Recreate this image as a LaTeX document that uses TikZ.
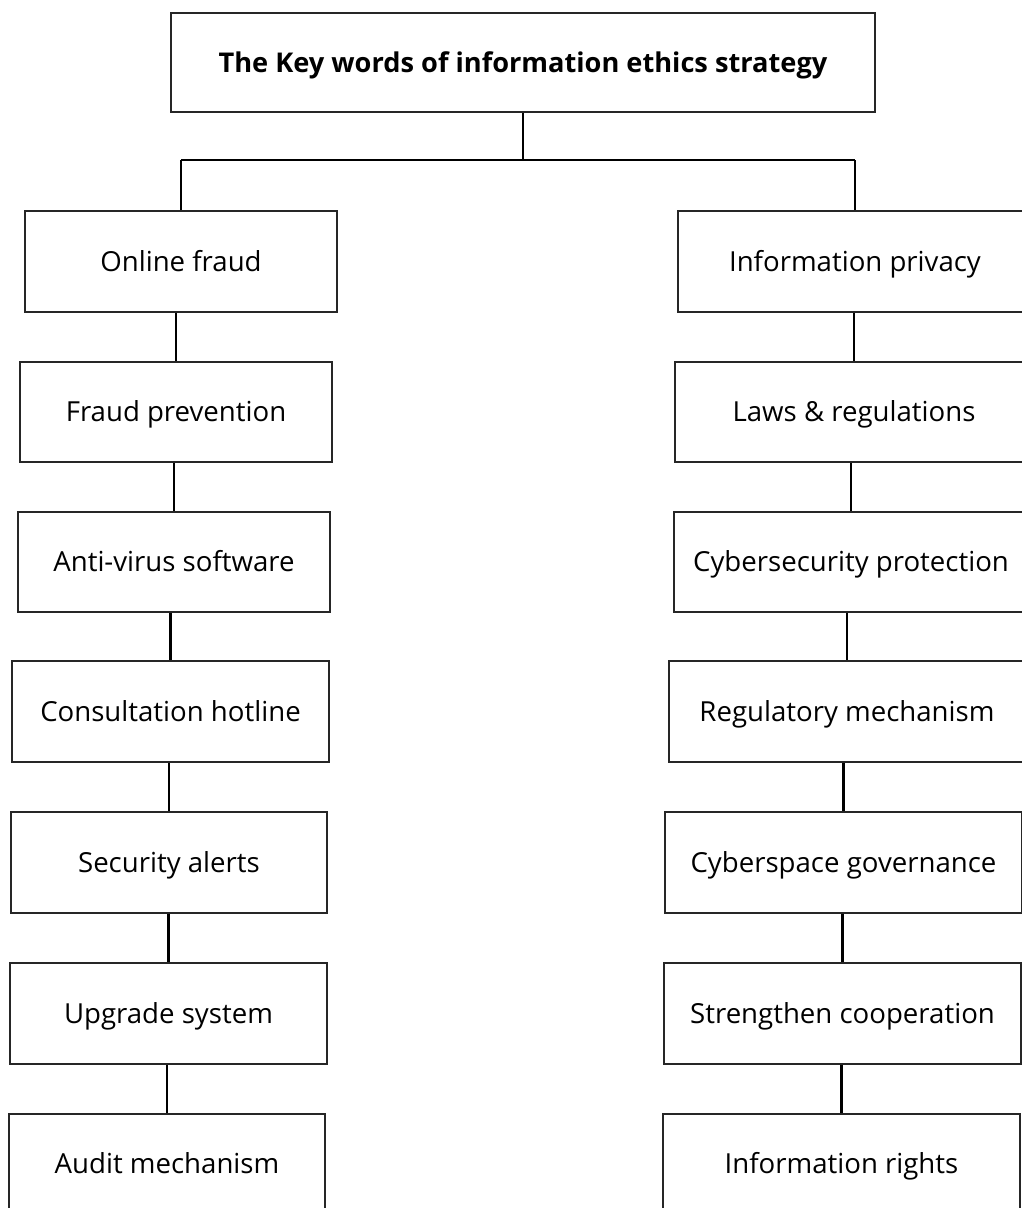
\documentclass[tikz,border=0pt]{standalone}
\usepackage{fontspec}
\setmainfont{Open Sans}
\begin{document}
\begin{tikzpicture}[x=0.75pt,y=-0.75pt,
  kbox/.style={draw=black!85, line width=1.1pt, inner sep=0pt, align=center,
    text height=14.7pt, text depth=0pt,
    font=\fontsize{20.7pt}{24pt}\selectfont},
  link/.style={draw=black, line width=1.6pt}]
\useasboundingbox (0,0) rectangle (1022,1208);
% box given by its left, top, right and bottom edges
\newcommand\kwbox[7][]{%
  \node[kbox,#1, minimum width={(#5-#3)*0.75pt}, minimum height={(#6-#4)*0.75pt}]
    (#2) at ({(#3+#5)/2},{(#4+#6)/2}) {#7};}

\kwbox[font=\fontsize{20.4pt}{24pt}\selectfont\bfseries]{top}{171}{13}{875}{112}{The Key words of information ethics strategy}

% left column
\kwbox{l1}{25}{211}{337}{312}{Online fraud}
\kwbox{l2}{20}{362}{332}{462}{Fraud prevention}
\kwbox{l3}{18}{512}{330}{612}{Anti-virus software}
\kwbox{l4}{12}{661}{329}{762}{Consultation hotline}
\kwbox{l5}{11}{812}{327}{913}{Security alerts}
\kwbox{l6}{10}{963}{327}{1064}{Upgrade system}
\kwbox{l7}{9}{1114}{325}{1214}{Audit mechanism}

% right column
\kwbox{r1}{678}{211}{1032}{312}{Information privacy}
\kwbox{r2}{675}{362}{1033}{462}{Laws \& regulations}
\kwbox{r3}{674}{512}{1028}{612}{Cybersecurity protection}
\kwbox{r4}{669}{661}{1025}{762}{Regulatory mechanism}
\kwbox{r5}{665}{812}{1022}{913}{Cyberspace governance}
\kwbox{r6}{664}{963}{1021}{1064}{Strengthen cooperation}
\kwbox{r7}{663}{1114}{1020}{1214}{Information rights}

% trunk from the title to both columns
\coordinate (j) at (523,160);
\draw[link] (top.south) -- (j);
\draw[link] (l1.north |- j) -- (r1.north |- j);
\draw[link] (l1.north |- j) -- (l1.north);
\draw[link] (r1.north |- j) -- (r1.north);

% chains down each column
\foreach \a/\b in {l1/l2,l2/l3,l3/l4,l4/l5,l5/l6,l6/l7,r1/r2,r2/r3,r3/r4,r4/r5,r5/r6,r6/r7}
  \draw[link] (\b.north |- \a.south) -- (\b.north);
\end{tikzpicture}
\end{document}
